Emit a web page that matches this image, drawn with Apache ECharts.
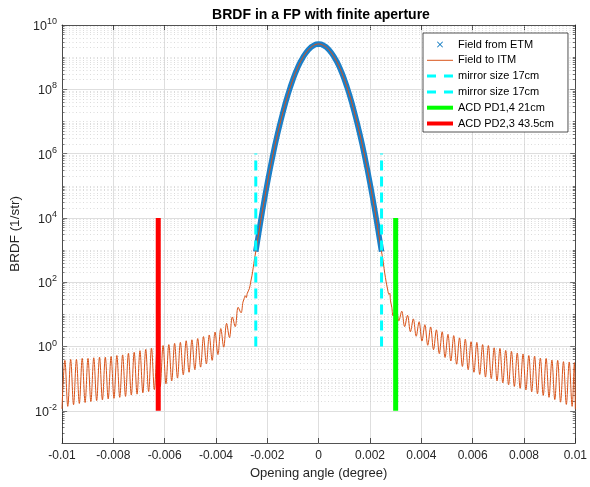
<!DOCTYPE html>
<html><head><meta charset="utf-8">
<script src="https://cdn.jsdelivr.net/npm/echarts@6/dist/echarts.min.js"></script>
<style>html,body{margin:0;padding:0;background:#fff}#c{width:590px;height:487px}</style>
</head><body><div id="c"></div>
<script>
// ---------- data ----------
const xTickLabels = ['-0.01','-0.008','-0.006','-0.004','-0.002','0','0.002','0.004','0.006','0.008','0.01'];
const yTickExps = [-2, 0, 2, 4, 6, 8, 10];

// central lobe (both fields), log10 of BRDF
const centerX = [-0.00245,-0.0024,-0.0023,-0.0022,-0.0021,-0.0020,-0.0019,-0.0018,-0.0017,-0.0016,-0.0015,-0.0014,-0.0013,-0.0012,-0.0011,-0.0010,-0.0009,-0.0008,-0.0007,-0.0006,-0.0005,-0.0004,-0.0003,-0.0002,-0.0001,0,
  0.0001,0.0002,0.0003,0.0004,0.0005,0.0006,0.0007,0.0008,0.0009,0.0010,0.0011,0.0012,0.0013,0.0014,0.0015,0.0016,0.0017,0.0018,0.0019,0.0020,0.0021,0.0022,0.0023,0.0024,0.00245];
const centerLog = [2.95,3.20,3.70,4.18,4.64,5.08,5.50,5.89,6.27,6.62,6.95,7.26,7.56,7.83,8.08,8.31,8.52,8.71,8.87,9.01,9.13,9.23,9.31,9.36,9.40,9.41,
  9.40,9.36,9.31,9.23,9.13,9.01,8.87,8.71,8.52,8.31,8.08,7.83,7.56,7.26,6.95,6.62,6.27,5.89,5.50,5.08,4.64,4.18,3.70,3.20,2.95];

// scattered tails of "Field to ITM" (dips and lobe tops), log10 of BRDF
const leftTailX = [-0.01,-0.0098875,-0.009775,-0.0096625,-0.00955,-0.0094375,-0.009325,-0.0092125,-0.0091,-0.0089875,
  -0.008875,-0.0087625,-0.00865,-0.0085375,-0.008425,-0.0083125,-0.0082,-0.0080875,-0.007975,-0.0078625,
  -0.00775,-0.0076375,-0.007525,-0.0074125,-0.0073,-0.0071875,-0.007075,-0.0069625,-0.00685,-0.0067375,
  -0.006625,-0.0065125,-0.0064,-0.0062875,-0.006175,-0.0060625,-0.00595,-0.0058375,-0.005725,-0.0056125,
  -0.0055,-0.0053875,-0.005275,-0.0051625,-0.00505,-0.0049375,-0.004825,-0.0047125,-0.0046,-0.0044875,
  -0.004375,-0.0042625,-0.00415,-0.0040375,-0.003925,-0.0038125,-0.0037,-0.0035875,-0.003475,-0.0033625,
  -0.00325,-0.0031375,-0.003025,-0.00295,-0.0029,-0.00286,-0.00282,-0.00278,-0.0027,-0.00265,-0.0026,-0.00255,-0.0025];
const leftTailLog = [-1.94,-0.43,-1.86,-0.40,-1.81,-0.40,-1.77,-0.37,-1.74,-0.37,
  -1.71,-0.35,-1.68,-0.33,-1.66,-0.33,-1.63,-0.31,-1.61,-0.28,
  -1.58,-0.26,-1.55,-0.21,-1.51,-0.18,-1.48,-0.13,-1.44,-0.09,
  -1.40,-0.05,-1.34,-0.01,-1.25,0.03,-1.16,0.06,-1.07,0.10,
  -0.98,0.13,-0.88,0.18,-0.80,0.21,-0.72,0.25,-0.64,0.31,
  -0.54,0.36,-0.43,0.45,-0.25,0.56,-0.02,0.72,0.28,0.92,
  0.62,1.22,1.05,1.38,1.50,1.58,1.52,1.66,1.80,2.00,2.20,2.45,2.72];
const rightTailX = [0.0025,0.00255,0.0026,0.00265,0.0027,0.00274,0.00277,0.0028,0.00285,
  0.0029,0.0030125,0.003125,0.0032375,0.00335,0.0034625,0.003575,0.0036875,0.0038,0.0039125,
  0.004025,0.0041375,0.00425,0.0043625,0.004475,0.0045875,0.0047,0.0048125,0.004925,0.0050375,
  0.00515,0.0052625,0.005375,0.0054875,0.0056,0.0057125,0.005825,0.0059375,0.00605,0.0061625,
  0.006275,0.0063875,0.0065,0.0066125,0.006725,0.0068375,0.00695,0.0070625,0.007175,0.0072875,
  0.0074,0.0075125,0.007625,0.0077375,0.00785,0.0079625,0.008075,0.0081875,0.0083,0.0084125,
  0.008525,0.0086375,0.00875,0.0088625,0.008975,0.0090875,0.0092,0.0093125,0.009425,0.0095375,
  0.00965,0.0097625,0.009875,0.0099625,0.01];
const rightTailLog = [2.72,2.42,2.15,1.92,1.72,1.62,1.66,1.42,1.22,
  0.95,1.24,0.80,1.10,0.62,0.97,0.46,0.86,0.32,0.77,
  0.17,0.68,0.04,0.61,-0.10,0.52,-0.22,0.46,-0.34,0.38,
  -0.45,0.34,-0.55,0.27,-0.62,0.23,-0.72,0.15,-0.80,0.13,
  -0.87,0.06,-0.95,0.03,-1.00,-0.04,-1.07,-0.06,-1.13,-0.12,
  -1.19,-0.15,-1.24,-0.20,-1.30,-0.23,-1.35,-0.28,-1.41,-0.30,
  -1.47,-0.36,-1.52,-0.37,-1.58,-0.42,-1.65,-0.43,-1.73,-0.47,
  -1.80,-0.48,-1.86,-0.50,-1.95];

// vertical markers
const mirrorX = [-0.00245, 0.00245];
const mirrorRange = [1, 1e6];
const acd14X = 0.003;
const acd23X = -0.00625;
const acdRange = [1e-2, 1e4];

// ---------- build ----------
const pts = (xs, logs) => xs.map((x, i) => [x, Math.pow(10, logs[i])]);
const etmData = pts(centerX, centerLog);
const itmData = pts(leftTailX, leftTailLog).concat(etmData, pts(rightTailX, rightTailLog));

const FONT = 'Liberation Sans, Helvetica, Arial, sans-serif';
const TXT = '#262626';

// grid lines & minor ticks (log decades) drawn as mark lines
const gridLines = [];
const XMIN = -0.01, XMAX = 0.01;
for (let e = -3; e <= 9; e++) {
  for (let m = 1; m <= 9; m++) {
    const v = m * Math.pow(10, e);
    if (e === -3 && m === 1) continue;
    const major = (m === 1 && e % 2 === 0);
    gridLines.push({yAxis: v, lineStyle: major ? {color: '#dedede', width: 1, type: 'solid'} : {color: '#c4c4c4', width: 0.6, type: [1, 2.5]}});
    const len = major ? 0.0002 : 0.0001;
    const tk = {color: TXT, width: 0.6, type: 'solid'};
    gridLines.push([{coord: [XMIN, v], lineStyle: tk}, {coord: [XMIN + len, v]}]);
    gridLines.push([{coord: [XMAX, v], lineStyle: tk}, {coord: [XMAX - len, v]}]);
  }
}

const chart = echarts.init(document.getElementById('c'), null, {renderer: 'canvas'});
// legend glyphs
const iconX = 'path://M1,0L5,4L9,0L10,1L6,5L10,9L9,10L5,6L1,10L0,9L4,5L0,1Z';
const iconThin = 'path://M0,0L26,0L26,1L0,1Z';
const iconDash = 'path://M0,0L9,0L9,3L0,3ZM17,0L26,0L26,3L17,3Z';
const iconThick = 'path://M0,0L26,0L26,4L0,4Z';

chart.setOption({
  animation: false,
  backgroundColor: '#fff',
  title: {
    text: 'BRDF in a FP with finite aperture', left: 316, top: 3, textAlign: 'center',
    textStyle: {fontFamily: FONT, fontSize: 14, fontWeight: 'bold', color: '#000'}
  },
  grid: {left: 58, right: 13, top: 25, bottom: 44, containLabel: false},
  legend: {
    z: 100, zlevel: 1,
    orient: 'vertical', left: 423, top: 33,
    backgroundColor: '#fff', borderColor: '#262626', borderWidth: 0.8,
    padding: [5, 14, 2, 4], itemWidth: 26, itemHeight: 6, itemGap: 2.8,
    textStyle: {fontFamily: FONT, fontSize: 11, color: '#000', lineHeight: 13},
    formatter: n => n.replace('#2', ''),
    data: [
      {name: 'Field from ETM', icon: iconX},
      {name: 'Field to ITM', icon: iconThin},
      {name: 'mirror size 17cm', icon: iconDash},
      {name: 'mirror size 17cm#2', icon: iconDash},
      {name: 'ACD PD1,4 21cm', icon: iconThick},
      {name: 'ACD PD2,3 43.5cm', icon: iconThick}
    ]
  },
  xAxis: [{
    type: 'value', min: XMIN, max: XMAX, interval: 0.002,
    axisLine: {show: true, onZero: false, lineStyle: {color: TXT, width: 0.8}},
    axisTick: {show: true, inside: true, length: 5, lineStyle: {color: TXT, width: 0.8}},
    axisLabel: {fontFamily: FONT, fontSize: 12, color: TXT, margin: 7,
      formatter: v => xTickLabels[Math.round((v - XMIN) / 0.002)]},
    splitLine: {show: true, lineStyle: {color: '#dedede', width: 1}},
    name: 'Opening angle (degree)', nameLocation: 'middle', nameGap: 22,
    nameTextStyle: {fontFamily: FONT, fontSize: 13, color: TXT}
  }, {
    type: 'value', position: 'top', min: XMIN, max: XMAX, interval: 0.002,
    axisLine: {show: true, onZero: false, lineStyle: {color: TXT, width: 0.8}},
    axisTick: {show: true, inside: true, length: 5, lineStyle: {color: TXT, width: 0.8}},
    axisLabel: {show: false}, splitLine: {show: false}
  }],
  yAxis: [{
    type: 'log', logBase: 10, min: 1e-3, max: 1e10, interval: 1, splitNumber: 13,
    axisLine: {show: true, onZero: false, lineStyle: {color: TXT, width: 0.8}},
    axisTick: {show: false},
    splitLine: {show: false}, minorSplitLine: {show: false},
    axisLabel: {
      fontFamily: FONT, color: TXT, margin: 5,
      formatter: v => {
        const e = Math.round(Math.log10(v));
        return yTickExps.indexOf(e) >= 0 ? '{b|10}{s|' + e + '}' : '';
      },
      rich: {
        b: {fontFamily: FONT, fontSize: 12.5, color: TXT, verticalAlign: 'bottom'},
        s: {fontFamily: FONT, fontSize: 9, color: TXT, verticalAlign: 'bottom', padding: [0, 0, 7, 0]}
      }
    },
    name: 'BRDF (1/str)', nameLocation: 'middle', nameGap: 40,
    nameTextStyle: {fontFamily: FONT, fontSize: 13.5, color: TXT}
  }, {
    type: 'log', logBase: 10, min: 1e-3, max: 1e10, position: 'right',
    axisLine: {show: true, onZero: false, lineStyle: {color: TXT, width: 0.8}},
    axisTick: {show: false}, axisLabel: {show: false}, splitLine: {show: false}
  }],
  series: [
    {
      name: '_grid', type: 'line', data: [], silent: true, z: 0,
      markLine: {z: 1, silent: true, symbol: 'none', animation: false, label: {show: false}, data: gridLines}
    },
    {name: 'Field from ETM', type: 'line', data: etmData, symbol: 'none', z: 2,
      lineStyle: {color: '#1a7fc8', width: 5.5}, itemStyle: {color: '#0072BD'}},
    {name: 'Field to ITM', type: 'line', data: itmData, symbol: 'none', z: 3, smooth: 0.35,
      lineStyle: {color: '#D95319', width: 1}, itemStyle: {color: '#D95319'}},
    {name: 'mirror size 17cm', type: 'line', symbol: 'none', z: 4,
      data: [[mirrorX[0], mirrorRange[0]], [mirrorX[0], mirrorRange[1]]],
      lineStyle: {color: '#00FFFF', width: 3, type: [10, 6]}, itemStyle: {color: '#00FFFF'}},
    {name: 'mirror size 17cm#2', type: 'line', symbol: 'none', z: 4,
      data: [[mirrorX[1], mirrorRange[0]], [mirrorX[1], mirrorRange[1]]],
      lineStyle: {color: '#00FFFF', width: 3, type: [10, 6]}, itemStyle: {color: '#00FFFF'}},
    {name: 'ACD PD1,4 21cm', type: 'line', symbol: 'none', z: 5,
      data: [[acd14X, acdRange[0]], [acd14X, acdRange[1]]],
      lineStyle: {color: '#00FF00', width: 5}, itemStyle: {color: '#00FF00'}},
    {name: 'ACD PD2,3 43.5cm', type: 'line', symbol: 'none', z: 5,
      data: [[acd23X, acdRange[0]], [acd23X, acdRange[1]]],
      lineStyle: {color: '#FF0000', width: 5}, itemStyle: {color: '#FF0000'}}
  ]
});
</script></body></html>
